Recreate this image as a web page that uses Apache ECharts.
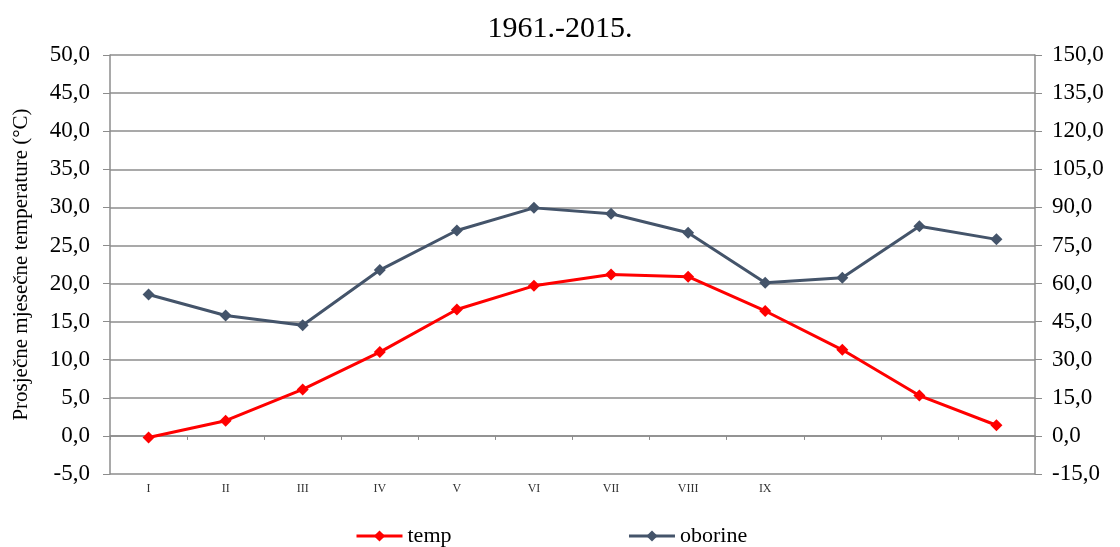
<!DOCTYPE html>
<html><head><meta charset="utf-8">
<script src="https://cdn.jsdelivr.net/npm/echarts@6/dist/echarts.min.js"></script>
<style>html,body{margin:0;padding:0;background:#fff}#c{width:1120px;height:547px}</style>
</head><body><div id="c"></div>
<script>
const months = ['I','II','III','IV','V','VI','VII','VIII','IX','','',''];
const temp = [-0.2, 2.0, 6.1, 11.0, 16.6, 19.7, 21.2, 20.9, 16.4, 11.3, 5.3, 1.4];
const oborine = [55.7, 47.4, 43.6, 65.3, 80.9, 89.8, 87.5, 80.0, 60.3, 62.3, 82.6, 77.4];
const title = '1961.-2015.';
const yName = 'Prosječne mjesečne temperature (°C)';

const serif = '"Liberation Serif", "DejaVu Serif", serif';
const fmt = v => v.toFixed(1).replace('.', ',');
const chart = echarts.init(document.getElementById('c'));
chart.setOption({
  animation: false,
  backgroundColor: '#fff',
  title: { text: title, left: 'center', top: 9, textStyle: { fontFamily: serif, fontSize: 30, fontWeight: 'normal', color: '#000' } },
  grid: { left: 110, right: 85, top: 55, bottom: 73, outerBoundsMode: 'none', containLabel: false },
  legend: {
    top: 520, left: 350, itemGap: 176, itemWidth: 46, itemHeight: 14,
    lineStyle: { width: 3 },
    textStyle: { fontFamily: serif, fontSize: 22, color: '#000' },
    data: ['temp', 'oborine']
  },
  xAxis: [
    { type: 'category', data: months, boundaryGap: true,
      axisLine: { onZero: true, lineStyle: { color: '#8c8c8c', width: 1.5 } },
      axisTick: { show: true, inside: false, length: 4, lineStyle: { color: '#8c8c8c' } },
      axisLabel: { show: false } },
    { type: 'category', data: months, position: 'bottom', boundaryGap: true,
      axisLine: { show: false }, axisTick: { show: false },
      axisLabel: { fontFamily: serif, fontSize: 12, color: '#333', margin: 9 } }
  ],
  yAxis: [
    { type: 'value', min: -5, max: 50, interval: 5, name: yName, nameLocation: 'middle', nameGap: 78,
      nameTextStyle: { fontFamily: serif, fontSize: 21, color: '#000' },
      axisLine: { show: true, lineStyle: { color: '#8c8c8c', width: 1.5 } },
      axisTick: { show: true, length: 7, lineStyle: { color: '#8c8c8c' } },
      axisLabel: { fontFamily: serif, fontSize: 23, color: '#000', margin: 20, formatter: fmt },
      splitLine: { lineStyle: { color: '#8c8c8c', width: 1.5 } } },
    { type: 'value', min: -15, max: 150, interval: 15, position: 'right',
      axisLine: { show: true, lineStyle: { color: '#8c8c8c', width: 1.5 } },
      axisTick: { show: true, length: 7, lineStyle: { color: '#8c8c8c' } },
      axisLabel: { fontFamily: serif, fontSize: 23, color: '#000', margin: 17, formatter: fmt },
      splitLine: { show: false } }
  ],
  series: [
    { name: 'temp', type: 'line', data: temp, yAxisIndex: 0, xAxisIndex: 0,
      symbol: 'diamond', symbolSize: 12, color: '#ff0000',
      lineStyle: { color: '#ff0000', width: 3 }, itemStyle: { color: '#ff0000' } },
    { name: 'oborine', type: 'line', data: oborine, yAxisIndex: 1, xAxisIndex: 0,
      symbol: 'diamond', symbolSize: 12, color: '#44546a',
      lineStyle: { color: '#44546a', width: 3 }, itemStyle: { color: '#44546a' } }
  ]
});
</script></body></html>
